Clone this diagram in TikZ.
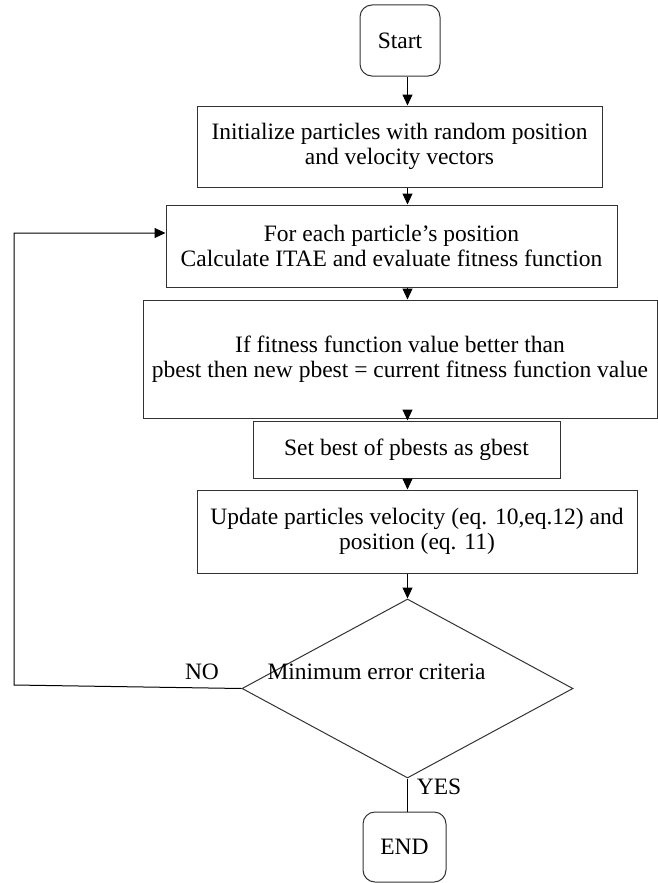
\documentclass[tikz,border=0pt]{standalone}
\usepackage{fontspec}
\setmainfont{Liberation Serif}
\usetikzlibrary{shapes.geometric,arrows.meta}
\begin{document}
\begin{tikzpicture}[x=1pt,y=1pt,yscale=-1,xscale=1,
  every node/.style={font=\fontsize{23.5}{25}\selectfont},
  procbox/.style={draw=black!80, line width=1pt, align=center, inner sep=0pt},
  termbox/.style={draw=black!80, line width=1pt, rounded corners=12pt, inner sep=0pt},
  flow/.style={-{Triangle[length=11pt,width=10pt]}, line width=1pt}]
   	\useasboundingbox (0,0) rectangle (657,883);
   	
   	% terminals
   	\node [termbox, minimum width=80, minimum height=71] (start) at (400,40.5) {Start};
   	\node [termbox, minimum width=83, minimum height=70] (end) at (404.5,847) {END};
   	
   	% process boxes
   	\node [procbox, minimum width=405, minimum height=81] (init) at (399.5,146.5) {Initialize particles with random position\\and velocity vectors};
   	\node [procbox, minimum width=451, minimum height=82] (eval) at (391.5,246) {For each particle's position\\Calculate ITAE and evaluate fitness function};
   	\node [procbox, minimum width=514, minimum height=118] (pbest) at (400,359) {If fitness function value better than\\pbest then new pbest = current fitness function value};
   	\node [procbox, minimum width=307, minimum height=57] (gbest) at (406.5,449.5) {Set best of pbests as gbest};
   	\node [procbox, minimum width=440, minimum height=83] (update) at (417,531.5) {Update particles velocity (eq. 10,eq.12) and\\position (eq. 11)};
   	
   	% decision
   	\node [diamond, draw=black!80, line width=1pt, minimum width=331, minimum height=179, inner sep=0pt] (crit) at (407.5,688.5) {};
   	\node (crittext) at (376.5,672) {Minimum error criteria};
   	\node (no) at (202,672) {NO};
   	\node (yes) at (439,787) {YES};
   	
   	\coordinate (loop) at (14,685);
   	
   	% connectors
   	\draw [flow] (start.south -| crit.north) -- (init.north -| crit.north);
   	\draw [flow] (init.south -| crit.north) -- (eval.north -| crit.north);
   	\draw [flow] (eval.south -| crit.north) -- (pbest.north -| crit.north);
   	\draw [flow] (pbest.south -| crit.north) -- (gbest.north -| crit.north);
   	\draw [flow] (gbest.south -| crit.north) -- (update.north -| crit.north);
   	\draw [flow] (update.south -| crit.north) -- (crit.north);
   	\draw [flow] (crit.west) -- (loop) |- ([yshift=-13pt]eval.west);
   	\draw [line width=1pt] (crit.south) -- (crit.south |- end.north);
   	
\end{tikzpicture}
\end{document}
